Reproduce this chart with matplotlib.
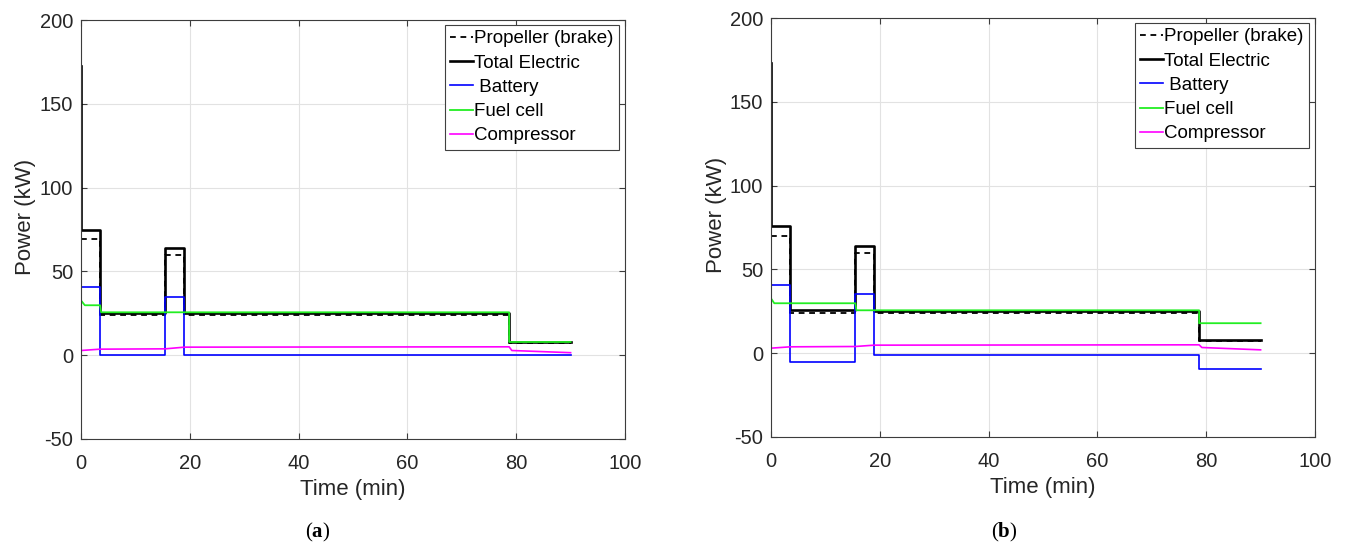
import matplotlib
matplotlib.use("Agg")
import matplotlib.pyplot as plt

plt.rcParams['font.family'] = ['Liberation Sans', 'DejaVu Sans']
plt.rcParams['axes.unicode_minus'] = False
plt.rcParams['mathtext.fontset'] = 'custom'
plt.rcParams['mathtext.rm'] = 'Liberation Serif'
plt.rcParams['mathtext.bf'] = 'Liberation Serif:bold'

# ---- panel (a) ----
a_prop_t = [0, 3.5, 3.5, 15.5, 15.5, 19.0, 19.0, 78.7, 78.7, 90]
a_prop_v = [69.6, 69.6, 23.8, 23.8, 59.7, 59.7, 23.8, 23.8, 7.1, 7.1]

a_total_t = [0, 0, 3.5, 3.5, 15.5, 15.5, 19.0, 19.0, 78.7, 78.7, 90]
a_total_v = [172.5, 75.0, 75.0, 25.3, 25.3, 63.7, 63.7, 25.3, 25.3, 7.8, 7.8]

a_batt_t = [0, 0, 3.5, 3.5, 15.5, 15.5, 19.0, 19.0, 90]
a_batt_v = [120.0, 40.5, 40.5, 0.0, 0.0, 35.0, 35.0, 0.0, 0.0]

a_fc_t = [0, 0.7, 3.5, 3.7, 78.7, 78.7, 90]
a_fc_v = [32.7, 29.8, 29.8, 25.6, 25.6, 7.9, 7.9]

a_comp_t = [0, 3.5, 15.5, 19.0, 78.7, 79.2, 90]
a_comp_v = [2.8, 3.6, 3.8, 4.8, 5.0, 2.8, 1.5]

# ---- panel (b) ----
b_prop_t = [0, 3.5, 3.5, 15.5, 15.5, 19.0, 19.0, 78.7, 78.7, 90]
b_prop_v = [70.0, 70.0, 23.8, 23.8, 60.0, 60.0, 23.8, 23.8, 7.0, 7.0]

b_total_t = [0, 0, 3.5, 3.5, 15.5, 15.5, 19.0, 19.0, 78.7, 78.7, 90]
b_total_v = [173.0, 75.8, 75.8, 25.8, 25.8, 63.9, 63.9, 25.0, 25.0, 7.7, 7.7]

b_batt_t = [0, 0, 3.5, 3.5, 15.5, 15.5, 19.0, 19.0, 78.7, 78.7, 90]
b_batt_v = [121.0, 40.9, 40.9, -5.4, -5.4, 35.3, 35.3, -1.2, -1.2, -9.5, -9.5]

b_fc_t = [0, 0.6, 15.5, 15.7, 78.7, 78.7, 90]
b_fc_v = [32.7, 29.8, 29.8, 25.6, 25.6, 17.9, 17.9]

b_comp_t = [0, 3.5, 15.5, 19.0, 78.7, 79.2, 90]
b_comp_v = [3.0, 3.8, 4.0, 4.8, 5.0, 3.4, 2.0]

labels = ['Propeller (brake)', 'Total Electric', ' Battery', 'Fuel cell', 'Compressor']
x_ticks = [0, 20, 40, 60, 80, 100]
y_ticks = [-50, 0, 50, 100, 150, 200]

panels = [
    ("a", [81, 625, 20, 439], 318,
     [(a_prop_t, a_prop_v), (a_total_t, a_total_v), (a_batt_t, a_batt_v),
      (a_fc_t, a_fc_v), (a_comp_t, a_comp_v)]),
    ("b", [771, 1315, 18, 437], 1004,
     [(b_prop_t, b_prop_v), (b_total_t, b_total_v), (b_batt_t, b_batt_v),
      (b_fc_t, b_fc_v), (b_comp_t, b_comp_v)]),
]

W, H = 1347, 547
fig = plt.figure(figsize=(W / 100, H / 100), dpi=100)

styles = [
    dict(color='black', lw=1.3, linestyle=(0, (3.2, 2.6))),
    dict(color='black', lw=1.9),
    dict(color='#0000ff', lw=1.2),
    dict(color='#22ee22', lw=1.3),
    dict(color='#ff00ff', lw=1.2),
]

for tag, (l, r, t, b), lab_x, series in panels:
    ax = fig.add_axes([l / W, (H - b) / H, (r - l) / W, (b - t) / H])
    for (xs, ys), st, lab in zip(series, styles, labels):
        ax.plot(xs, ys, label=lab, **st)

    ax.set_xlim(0, 100)
    ax.set_ylim(-50, 200)
    ax.set_xticks(x_ticks)
    ax.set_yticks(y_ticks)
    ax.grid(True, color='#e2e2e2', lw=0.8)
    ax.set_axisbelow(True)
    for sp in ax.spines.values():
        sp.set_color('#3c3c3c')
        sp.set_linewidth(0.8)
    ax.tick_params(direction='in', length=4, width=0.8, color='#3c3c3c',
                   top=True, right=True, labelsize=14.5, labelcolor='#262626')
    ax.tick_params(axis='x', pad=11)
    ax.tick_params(axis='y', pad=5.5)

    ax.set_xlabel('Time (min)', fontsize=16, color='#262626')
    ax.xaxis.set_label_coords(0.5, -0.095)
    ax.set_ylabel('Power (kW)', fontsize=16, color='#262626', va='center')
    ax.yaxis.set_label_coords(-55 / (r - l), 0.53)

    leg = ax.legend(loc='upper right', bbox_to_anchor=(1 - 6 / 544, 1 - 5 / 419),
                    borderaxespad=0, fontsize=13.5, handlelength=1.25,
                    handletextpad=0.05, labelspacing=0.38, borderpad=0.28,
                    fancybox=False, framealpha=1, edgecolor='#404040')
    leg.get_frame().set_linewidth(0.8)

    fig.text(lab_x / W, (H - 537) / H, r'($\mathbf{' + tag + r'}$)',
             ha='center', va='baseline', fontsize=15, family='Liberation Serif')

fig.savefig('out.png', dpi=100)
